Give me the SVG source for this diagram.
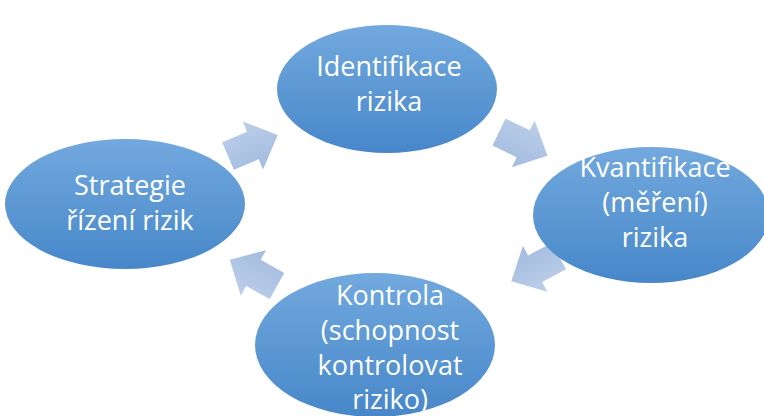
<svg xmlns="http://www.w3.org/2000/svg" width="764" height="416" viewBox="0 0 764 416">
<defs>
<linearGradient id="eg" x1="0" y1="0" x2="0" y2="1">
<stop offset="0" stop-color="#72a9de"/>
<stop offset="1" stop-color="#4787c9"/>
</linearGradient>
<linearGradient id="ag" x1="0" y1="0" x2="0" y2="1" gradientUnits="objectBoundingBox">
<stop offset="0" stop-color="#bccfea"/>
<stop offset="1" stop-color="#a3bbde"/>
</linearGradient>
<polygon id="arr" points="0,-15 27,-15 27,-26 54,0 27,26 27,15 0,15"/>
</defs>
<style>
.node ellipse{fill:url(#eg);}
.node text{fill:#ffffff;font-family:"Open Sans","Liberation Sans",sans-serif;font-size:27px;text-anchor:middle;}
.conn use{fill:url(#ag);}
</style>
<rect width="764" height="416" fill="#ffffff"/>
<g id="connectors" class="conn">
<use href="#arr" transform="translate(228,156) rotate(-23)"/>
<use href="#arr" transform="translate(499,132) rotate(26)"/>
<use href="#arr" transform="translate(559,256) rotate(152)"/>
<use href="#arr" transform="translate(277,286) rotate(209)"/>
</g>
<g id="n1" class="node">
<ellipse cx="387" cy="89" rx="110" ry="64"/>
<text x="389" y="76">Identifikace</text>
<text x="389" y="111">rizika</text>
</g>
<g id="n2" class="node">
<ellipse cx="651" cy="215" rx="118" ry="68"/>
<text x="655" y="177">Kvantifikace</text>
<text x="655" y="212">(měření)</text>
<text x="655" y="247">rizika</text>
</g>
<g id="n3" class="node">
<ellipse cx="375" cy="345" rx="120" ry="72"/>
<text x="390" y="305">Kontrola</text>
<text x="390" y="340">(schopnost</text>
<text x="390" y="375">kontrolovat</text>
<text x="390" y="409">riziko)</text>
</g>
<g id="n4" class="node">
<ellipse cx="125" cy="204" rx="120" ry="65"/>
<text x="130" y="195">Strategie</text>
<text x="130" y="230">řízení rizik</text>
</g>
</svg>
